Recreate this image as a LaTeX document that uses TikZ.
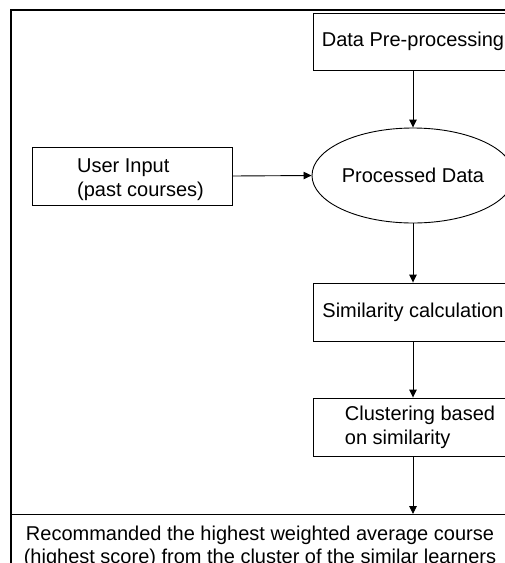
\documentclass[tikz,border=0pt]{standalone}
\usepackage{fontspec}
\setmainfont{Liberation Sans}
\usetikzlibrary{arrows.meta,shapes.geometric}
\begin{document}
\begin{tikzpicture}[x=1pt,y=-1pt,
  every node/.style={font=\fontsize{20}{24}\selectfont},
  box/.style={draw=black, line width=0.9pt, rectangle, minimum width=200pt, minimum height=57pt, inner sep=0pt},
  oval/.style={draw=black, line width=0.9pt, ellipse, minimum width=202pt, minimum height=95pt, inner sep=0pt},
  txt/.style={align=left, inner sep=0pt},
  arr/.style={draw=black, line width=0.9pt, -{Triangle[length=8pt,width=7.5pt]}},
  framel/.style={draw=black, line width=2pt}]
\useasboundingbox (0,0) rectangle (505,563);
\clip (0,0) rectangle (505,563);
\coordinate (ftl) at (11,10);
\coordinate (ftr) at (515,10);
\coordinate (fbl) at (11,580);
\draw[framel] (ftr) -- (ftl) -- (fbl);
\node[box] (dp) at (413,41.5) {Data Pre-processing};
\node[oval] (pd) at (413,175.5) {Processed Data};
\node[box, minimum height=58pt] (ui) at (132,176) {};
\node[txt] (uit) at (140.5,180) {User Input\\(past courses)};
\node[box, minimum height=58pt] (sc) at (413,312) {Similarity calculation};
\node[box, minimum height=58pt] (cl) at (413,427) {};
\node[txt] (clt) at (420,427) {Clustering based\\on similarity};
\node[draw=black, line width=0.9pt, rectangle, anchor=north west, minimum width=498pt, minimum height=80pt, inner sep=0pt] (rec) at (11,514) {};
\node[align=center, inner sep=0pt, font=\fontsize{20}{22.5}\selectfont] (rect) at (260,547) {Recommanded the highest weighted average course\\(highest score) from the cluster of the similar learners};
\draw[arr] (dp.south) -- (pd.north);
\draw[arr] (ui.east) -- (pd.west);
\draw[arr] (pd.south) -- (sc.north);
\draw[arr] (sc.south) -- (cl.north);
\draw[arr] (cl.south) -- (cl.south |- rec.north);
\end{tikzpicture}
\end{document}
